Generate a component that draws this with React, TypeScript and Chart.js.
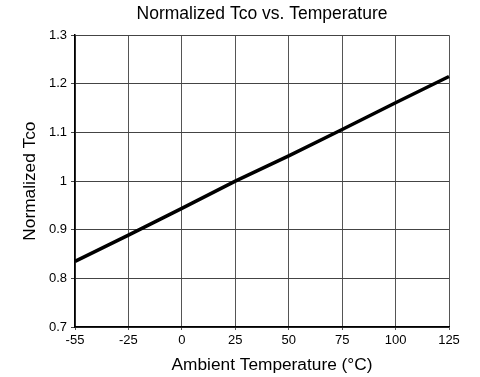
import React, { useEffect, useRef } from "react";
import { Chart, registerables } from "chart.js";

Chart.register(...registerables);

const temperatures = ["-55", "-25", "0", "25", "50", "75", "100", "125"];
const normalizedTco = [0.835, 0.889, 0.944, 1.0, 1.052, 1.106, 1.161, 1.215];
const yTicks = { min: 0.7, max: 1.3, step: 0.1 };
const xAxisTitle = "Ambient Temperature (°C)";

const FONT = "'Liberation Sans', Arial, Helvetica, sans-serif";

const xTitlePlugin = {
  id: "xTitle",
  afterDraw(chart: any) {
    const { ctx, chartArea } = chart;
    ctx.save();
    ctx.fillStyle = "#000";
    ctx.font = `17.3px ${FONT}`;
    ctx.textAlign = "center";
    ctx.textBaseline = "middle";
    ctx.fillText(xAxisTitle, (chartArea.left + chartArea.right) / 2 + 10, chart.height - 12);
    ctx.restore();
  },
};

export default function App() {
  const ref = useRef<HTMLCanvasElement | null>(null);

  useEffect(() => {
    if (!ref.current) return;
    const chart = new Chart(ref.current, {
      type: "line",
      data: {
        labels: temperatures,
        datasets: [
          {
            data: normalizedTco,
            borderColor: "#000",
            borderWidth: 3.5,
            pointRadius: 0,
            tension: 0,
            fill: false,
          },
        ],
      },
      plugins: [xTitlePlugin],
      options: {
        responsive: false,
        animation: false,
        layout: { padding: { left: 0, right: 31, top: 0, bottom: 0 } },
        plugins: {
          legend: { display: false },
          tooltip: { enabled: false },
          title: {
            display: true,
            fullSize: false,
            text: "Normalized Tco vs. Temperature",
            color: "#000",
            font: { family: FONT, size: 17.5, weight: "normal" },
            padding: { top: 4, bottom: 10.2 },
          },
        },
        scales: {
          x: {
            type: "category",
            offset: false,
            grid: { color: "#555", lineWidth: 1, tickLength: 3, drawTicks: true },
            border: { color: "#000", width: 1.5 },
            ticks: {
              color: "#000",
              font: { family: FONT, size: 13 },
              padding: 3,
              maxRotation: 0,
              autoSkip: false,
            },
            title: { display: false },
            afterFit: (scale: any) => {
              scale.height = 50;
            },
          },
          y: {
            min: yTicks.min,
            max: yTicks.max,
            grid: { color: "#444", lineWidth: 1, tickLength: 4 },
            border: { color: "#000", width: 1.5 },
            ticks: {
              stepSize: yTicks.step,
              color: "#000",
              font: { family: FONT, size: 13 },
              padding: 4,
              callback: (v: any) => String(Math.round(Number(v) * 10) / 10),
            },
            title: {
              display: true,
              text: "Normalized Tco",
              color: "#000",
              font: { family: FONT, size: 17.3 },
              padding: { top: 20, bottom: 4 },
            },
            afterFit: (scale: any) => {
              scale.width = 75;
            },
          },
        },
      },
    });
    return () => chart.destroy();
  }, []);

  return (
    <div style={{ position: "fixed", left: 0, top: 0, width: 480, height: 377, background: "#fff" }}>
      <canvas ref={ref} width={480} height={377} />
    </div>
  );
}
